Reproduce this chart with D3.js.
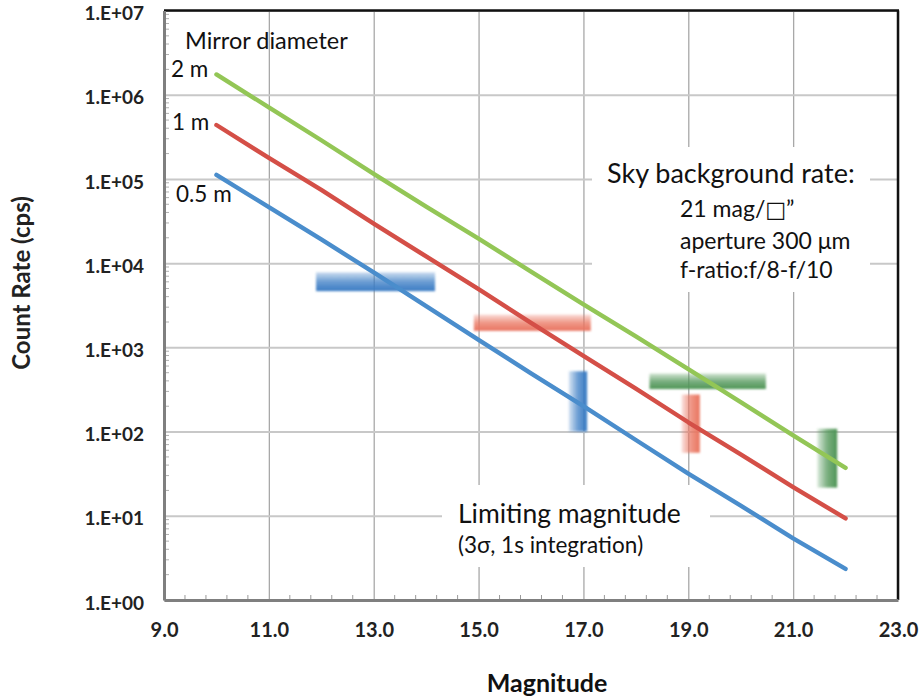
<!DOCTYPE html>
<html>
<head>
<meta charset="utf-8">
<script src="https://cdn.jsdelivr.net/npm/d3@7"></script>
<style>
  body { margin: 0; background: #fff; }
  svg { display: block; font-family: Lato, "Open Sans", sans-serif; }
</style>
</head>
<body>
<svg id="chart" width="920" height="700"></svg>
<script>
// count rate (cps) vs magnitude
const magnitudes = [10, 11, 12, 13, 14, 15, 16, 17, 18, 19, 20, 21, 22];
const rate2m  = [1.74e6, 7.08e5, 2.88e5, 1.15e5, 4.68e4, 1.95e4, 7.94e3, 3.24e3, 1.35e3, 550, 224, 90, 37];
const rate1m  = [4.37e5, 1.78e5, 7.41e4, 2.95e4, 1.20e4, 4.90e3, 1.95e3, 794, 324, 129, 53.7, 21.9, 9.3];
const rate05m = [1.12e5, 4.62e4, 1.91e4, 7.76e3, 3.09e3, 1.23e3, 490, 200, 79.4, 31.6, 13.2, 5.4, 2.34];
const seriesNames = ["2 m", "1 m", "0.5 m"];

// limiting magnitude bands (blue, red, green): magnitude span and rate span
const hBandMag  = [[11.9, 14.17], [14.91, 17.14], [18.26, 20.48]];
const hBandRate = [[4650, 7800], [1570, 2450], [320, 490]];
const vBandMag  = [[16.72, 17.07], [18.87, 19.22], [21.46, 21.84]];
const vBandRate = [[100, 520], [56, 275], [21.6, 108]];

const xTicks = [9, 11, 13, 15, 17, 19, 21, 23];
const yTicks = [1, 10, 100, 1e3, 1e4, 1e5, 1e6, 1e7];

const svg = d3.select("#chart");
const pL = 164, pR = 898, pT = 10.5, pB = 600;

const x = d3.scaleLinear().domain([9, 23]).range([pL, pR]);
const y = d3.scaleLog().domain([1, 1e7]).range([pB, pT]);

// grid
svg.append("g")
  .attr("transform", `translate(0,${pB})`)
  .call(d3.axisBottom(x).tickValues(xTicks).tickSize(-(pB - pT)).tickFormat(""))
  .call(g => g.select(".domain").remove())
  .call(g => g.selectAll("line").attr("stroke", "#a8a8a8").attr("stroke-width", 1.3));

svg.append("g")
  .attr("transform", `translate(${pL},0)`)
  .call(d3.axisLeft(y).tickValues(yTicks).tickSize(-(pR - pL)).tickFormat(""))
  .call(g => g.select(".domain").remove())
  .call(g => g.selectAll("line").attr("stroke", "#c8c8c8").attr("stroke-width", 2));

// white text boxes hide the grid
svg.append("rect").attr("x", 592).attr("y", 147).attr("width", 278).attr("height", 145).attr("fill", "#fff");
svg.append("rect").attr("x", 442).attr("y", 485).attr("width", 268).attr("height", 82).attr("fill", "#fff");

// minor ticks
const xMinor = d3.range(9.4, 23, 0.4).filter(v => Math.abs((v - 9) / 2 - Math.round((v - 9) / 2)) > 0.01);
svg.append("g").selectAll("line").data(xMinor).join("line")
  .attr("x1", d => x(d)).attr("x2", d => x(d))
  .attr("y1", pB).attr("y2", pB - 5)
  .attr("stroke", "#9a9a9a").attr("stroke-width", 1);

const yMinor = [];
for (let e = 0; e < 7; e++) for (let k = 2; k <= 9; k++) yMinor.push(k * Math.pow(10, e));
svg.append("g").selectAll("line").data(yMinor).join("line")
  .attr("x1", pL).attr("x2", pL + 5)
  .attr("y1", d => y(d)).attr("y2", d => y(d))
  .attr("stroke", "#b0b0b0").attr("stroke-width", 1);

// frame
svg.append("line").attr("x1", pL).attr("x2", pR + 1).attr("y1", pT).attr("y2", pT)
  .attr("stroke", "#111").attr("stroke-width", 2.5);
svg.append("line").attr("x1", pR).attr("x2", pR).attr("y1", pT).attr("y2", pB)
  .attr("stroke", "#111").attr("stroke-width", 2.5);

// axes with labels
svg.append("g")
  .attr("transform", `translate(0,${pB})`)
  .call(d3.axisBottom(x).tickValues(xTicks).tickSize(0).tickPadding(23).tickFormat(d => d.toFixed(1)))
  .call(g => g.select(".domain").attr("stroke", "#7f7f7f").attr("stroke-width", 3))
  .call(g => g.selectAll("text").attr("font-size", 20).attr("font-weight", "bold")
    .attr("fill", "#222").attr("font-family", "Lato, sans-serif"));

svg.append("g")
  .attr("transform", `translate(${pL},0)`)
  .call(d3.axisLeft(y).tickValues(yTicks).tickSize(0).tickPadding(20)
    .tickFormat(d => "1.E+" + String(Math.round(Math.log10(d))).padStart(2, "0")))
  .call(g => g.select(".domain").attr("stroke", "#7f7f7f").attr("stroke-width", 3))
  .call(g => g.selectAll("text").attr("font-size", 19).attr("font-weight", "bold")
    .attr("dy", "0.48em")
    .attr("fill", "#222").attr("font-family", "Lato, sans-serif"));

// band gradients
const defs = svg.append("defs");
const bandColors = ["#3a7cc4", "#ea7560", "#4f9556"];
bandColors.forEach((c, i) => {
  const gh = defs.append("linearGradient").attr("id", "gh" + i)
    .attr("x1", 0).attr("y1", 0).attr("x2", 0).attr("y2", 1);
  gh.append("stop").attr("offset", "0%").attr("stop-color", c).attr("stop-opacity", 0.25);
  gh.append("stop").attr("offset", "50%").attr("stop-color", c).attr("stop-opacity", 0.75);
  gh.append("stop").attr("offset", "100%").attr("stop-color", c).attr("stop-opacity", 1);
  const gv = defs.append("linearGradient").attr("id", "gv" + i)
    .attr("x1", 0).attr("y1", 0).attr("x2", 1).attr("y2", 0);
  gv.append("stop").attr("offset", "0%").attr("stop-color", c).attr("stop-opacity", 0.2);
  gv.append("stop").attr("offset", "50%").attr("stop-color", c).attr("stop-opacity", 0.75);
  gv.append("stop").attr("offset", "100%").attr("stop-color", c).attr("stop-opacity", 1);
});
defs.append("filter").attr("id", "soft")
  .append("feGaussianBlur").attr("stdDeviation", 0.9);

const bands = svg.append("g").attr("filter", "url(#soft)");
bands.selectAll(".hb").data(hBandMag).join("rect").attr("class", "hb")
  .attr("x", d => x(d[0])).attr("width", d => x(d[1]) - x(d[0]))
  .attr("y", (d, i) => y(hBandRate[i][1]))
  .attr("height", (d, i) => y(hBandRate[i][0]) - y(hBandRate[i][1]))
  .attr("fill", (d, i) => `url(#gh${i})`);
bands.selectAll(".vb").data(vBandMag).join("rect").attr("class", "vb")
  .attr("x", d => x(d[0])).attr("width", d => x(d[1]) - x(d[0]))
  .attr("y", (d, i) => y(vBandRate[i][1]))
  .attr("height", (d, i) => y(vBandRate[i][0]) - y(vBandRate[i][1]))
  .attr("fill", (d, i) => `url(#gv${i})`);

// curves
const series = [rate2m, rate1m, rate05m];
const lineColors = ["#93c656", "#d44f47", "#4a8dcc"];
const line = d3.line().x((d, i) => x(magnitudes[i])).y(d => y(d));
svg.append("g").selectAll("path").data(series).join("path")
  .attr("d", line)
  .attr("fill", "none")
  .attr("stroke", (d, i) => lineColors[i])
  .attr("stroke-width", 4.4)
  .attr("stroke-linecap", "round")
  .attr("stroke-linejoin", "round");

// annotations
const txt = (s, px, py, size, anchor = "start", weight = "normal") =>
  svg.append("text").attr("x", px).attr("y", py).attr("font-size", size)
    .attr("text-anchor", anchor).attr("font-weight", weight).attr("fill", "#111").text(s);

txt("Mirror diameter", 185, 49, 23.5);
const seriesLabelPos = [[171, 77], [172, 130], [176, 202]];
seriesNames.forEach((n, i) => txt(n, seriesLabelPos[i][0], seriesLabelPos[i][1], 22.5));

txt("Sky background rate:", 607, 183, 27);
const magLine = txt("21 mag/", 680, 217, 23);
magLine.append("tspan").attr("font-family", "DejaVu Sans").attr("font-size", 22).text("\u25A1");
magLine.append("tspan").text("\u201D");
txt("aperture 300 \u03BCm", 680, 249, 23);
txt("f-ratio:f/8-f/10", 680, 278, 23);

txt("Limiting magnitude", 458, 523, 26.5);
txt("(3\u03C3, 1s integration)", 458, 553, 22.5);

txt("Magnitude", 547, 692, 25, "middle", "bold");
svg.append("text")
  .attr("transform", "translate(30,283) rotate(-90)")
  .attr("text-anchor", "middle").attr("font-size", 24).attr("font-weight", "bold")
  .attr("fill", "#222").text("Count Rate (cps)");
</script>
</body>
</html>
